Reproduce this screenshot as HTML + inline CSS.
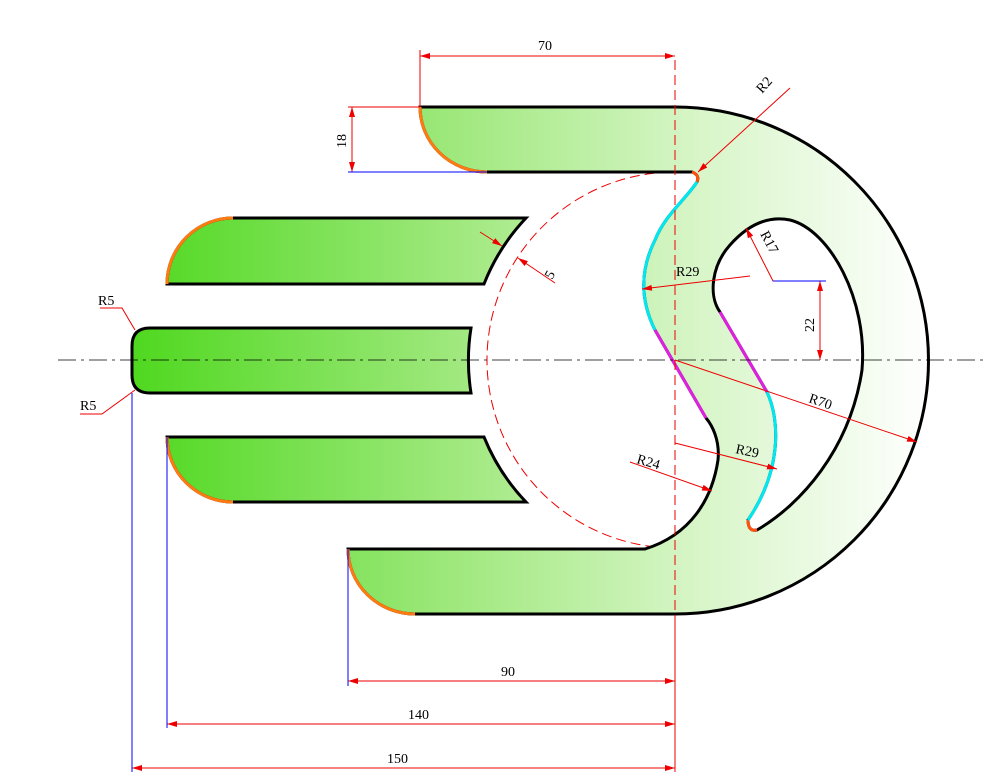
<!DOCTYPE html>
<html><head><meta charset="utf-8"><style>html,body{margin:0;padding:0;background:#fff}svg{display:block}</style></head>
<body>
<svg width="983" height="782" viewBox="0 0 983 782" xmlns="http://www.w3.org/2000/svg" font-family="Liberation Serif, serif" font-size="14">
<defs>
<linearGradient id="g" gradientUnits="userSpaceOnUse" x1="132" y1="0" x2="930" y2="0">
<stop offset="0" stop-color="#4fd81f"/>
<stop offset="0.45" stop-color="#a8ea88"/>
<stop offset="0.7" stop-color="#d6f5c6"/>
<stop offset="1" stop-color="#ffffff"/>
</linearGradient>
<clipPath id="c"><rect x="0" y="0" width="700" height="782"/></clipPath>
<marker id="a" viewBox="0 0 10 6" refX="10" refY="3" markerWidth="10" markerHeight="6" orient="auto-start-reverse" markerUnits="userSpaceOnUse"><path d="M0,0 L10,3 L0,6 Z" fill="#e00"/></marker>
</defs>

<circle cx="675" cy="360" r="188" fill="none" stroke="#e00" stroke-width="1" stroke-dasharray="10,5" clip-path="url(#c)"/>

<path d="M420,107 L675,107 A253,253 0 1 1 675,614 L415,614 A67,65 0 0 1 348,549 L645,549 C690,535 712,500 718,460 C720,440 712,425 706,418 L655,330 C640,300 640,270 655,240 C665,215 685,200 697,182 Q700,175 692,172 L487,172 A67,65 0 0 1 420,107 Z
M720,312 L767,392 C780,420 782,470 748,520 Q748,532 757,530 C800,505 850,450 862,370 C868,300 830,230 790,220 C765,215 745,228 730,245 C712,265 708,295 720,312 Z" fill="url(#g)" fill-rule="evenodd" stroke="#000" stroke-width="3"/>
<path d="M233,218 L526,218 A206,206 0 0 0 484,284 L167,284 A66,66 0 0 1 233,218 Z" fill="url(#g)" stroke="#000" stroke-width="3"/>
<path d="M150,328 L471,328 A206,206 0 0 0 471,393 L150,393 Q132,393 132,375 L132,346 Q132,328 150,328 Z" fill="url(#g)" stroke="#000" stroke-width="3"/>
<path d="M167,437 L484,437 A206,206 0 0 0 526,502 L233,502 A66,65 0 0 1 167,437 Z" fill="url(#g)" stroke="#000" stroke-width="3"/>

<g fill="none" stroke-width="3">
<path d="M487,172 A67,65 0 0 1 420,107" stroke="#ff7a10"/>
<path d="M415,614 A67,65 0 0 1 348,549" stroke="#ff7a10"/>
<path d="M167,284 A66,66 0 0 1 233,218" stroke="#ff7a10"/>
<path d="M233,502 A66,65 0 0 1 167,437" stroke="#ff7a10"/>
<path d="M697,182 Q700,175 692,172" stroke="#ff5010"/>
<path d="M748,520 Q748,532 757,530" stroke="#ff5010"/>
<path d="M655,330 C640,300 640,270 655,240 C665,215 685,200 697,182" stroke="#00e8f0"/>
<path d="M767,392 C780,420 782,470 748,520" stroke="#00e8f0"/>
<path d="M706,418 L655,330" stroke="#e020e0"/>
<path d="M720,312 L767,392" stroke="#e020e0"/>
</g>

<line x1="58" y1="360" x2="983" y2="360" stroke="#000" stroke-width="0.8" stroke-dasharray="18,5,3,5"/>
<line x1="675" y1="60" x2="675" y2="620" stroke="#e00" stroke-width="1" stroke-dasharray="10,5"/>
<line x1="675" y1="620" x2="675" y2="772" stroke="#e00" stroke-width="1"/>

<g stroke="#e00" stroke-width="1" fill="none">
<line x1="420" y1="50" x2="420" y2="107"/>
<line x1="420" y1="56" x2="675" y2="56" marker-start="url(#a)" marker-end="url(#a)"/>
<line x1="348" y1="107" x2="420" y2="107"/>
<line x1="352" y1="107" x2="352" y2="172" marker-start="url(#a)" marker-end="url(#a)"/>
<line x1="348" y1="681" x2="675" y2="681" marker-start="url(#a)" marker-end="url(#a)"/>
<line x1="167" y1="724" x2="675" y2="724" marker-start="url(#a)" marker-end="url(#a)"/>
<line x1="132" y1="768" x2="675" y2="768" marker-start="url(#a)" marker-end="url(#a)"/>
<polyline points="100,308 122,308 135,330"/>
<polyline points="80,414 102,414 135,390"/>
<line x1="790" y1="88" x2="698" y2="172" marker-end="url(#a)"/>
<line x1="555" y1="283" x2="518" y2="258" marker-end="url(#a)"/>
<line x1="502" y1="246" x2="480" y2="232" marker-start="url(#a)"/>
<line x1="750" y1="276" x2="642" y2="289" marker-end="url(#a)"/>
<polyline points="826,281 773,281 746,228" marker-end="url(#a)"/>
<line x1="820" y1="281" x2="820" y2="360" marker-start="url(#a)" marker-end="url(#a)"/>
<line x1="675" y1="360" x2="917" y2="442" marker-end="url(#a)"/>
<line x1="675" y1="443" x2="777" y2="469" marker-end="url(#a)"/>
<line x1="630" y1="462" x2="712" y2="491" marker-end="url(#a)"/>
</g>
<g stroke="#00f" stroke-width="1">
<line x1="348" y1="172" x2="487" y2="172"/>
<line x1="348" y1="549" x2="348" y2="686"/>
<line x1="167" y1="437" x2="167" y2="728"/>
<line x1="132" y1="393" x2="132" y2="772"/>
<line x1="773" y1="281" x2="826" y2="281"/>
</g>

<g fill="#000">
<text x="538" y="50">70</text>
<text transform="translate(346,148) rotate(-90)">18</text>
<text x="501" y="676">90</text>
<text x="408" y="719">140</text>
<text x="387" y="763">150</text>
<text x="98" y="305">R5</text>
<text x="80" y="410">R5</text>
<text transform="translate(762,94) rotate(-48)">R2</text>
<text transform="translate(552,280) rotate(-60)">5</text>
<text x="676" y="276">R29</text>
<text transform="translate(760,234) rotate(62)">R17</text>
<text transform="translate(814,332) rotate(-90)">22</text>
<text transform="translate(808,402) rotate(19)">R70</text>
<text transform="translate(735,453) rotate(12)">R29</text>
<text transform="translate(636,463) rotate(16)">R24</text>
</g>
</svg>
</body></html>
